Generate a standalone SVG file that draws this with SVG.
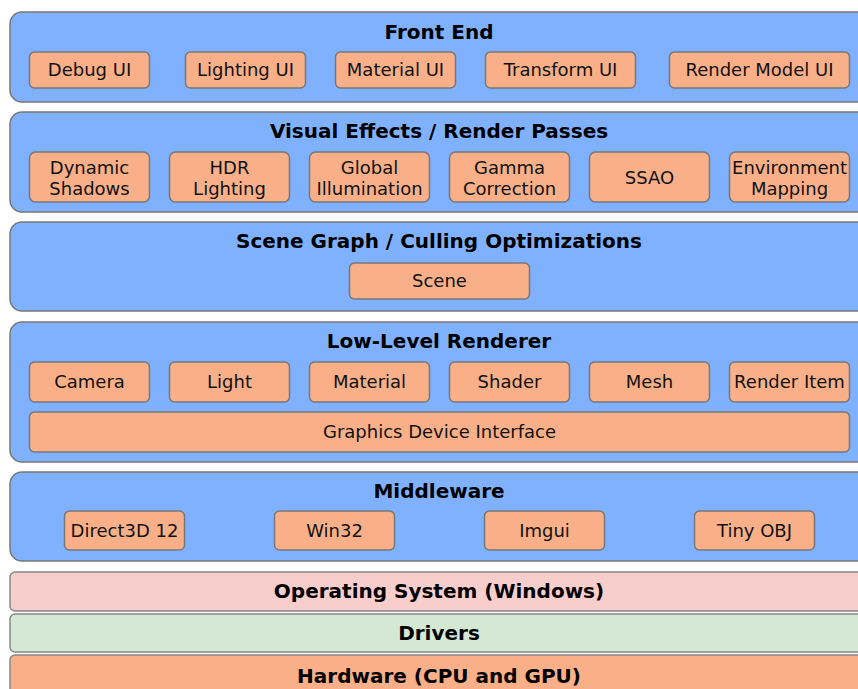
<svg xmlns="http://www.w3.org/2000/svg" width="858" height="689" viewBox="0 0 858 689">
<style>
.band{fill:#80b1ff;stroke:#777;stroke-width:1.5}
.os{fill:#f8cecc;stroke:#888;stroke-width:1.5}
.drv{fill:#d5e8d4;stroke:#888;stroke-width:1.5}
.hw{fill:#f9b088;stroke:#888;stroke-width:1.5}
.item{fill:#f9b088;stroke:#777;stroke-width:1.5}
.t{font-family:"DejaVu Sans",Verdana,sans-serif;font-size:20px;font-weight:bold;fill:#000;text-anchor:middle}
.l{font-family:"DejaVu Sans",Verdana,sans-serif;font-size:18px;fill:#111;text-anchor:middle}
</style>
<rect width="858" height="689" fill="#fff"/>
<g id="front-end">
<rect class="band" x="10" y="12" width="860" height="90" rx="12"/>
<text class="t" x="439" y="39">Front End</text>
<g id="debug-ui"><rect class="item" x="29.5" y="52" width="120" height="36" rx="5"/><text class="l" x="89.5" y="76">Debug UI</text></g>
<g id="lighting-ui"><rect class="item" x="185.5" y="52" width="120" height="36" rx="5"/><text class="l" x="245.5" y="76">Lighting UI</text></g>
<g id="material-ui"><rect class="item" x="335.5" y="52" width="120" height="36" rx="5"/><text class="l" x="395.5" y="76">Material UI</text></g>
<g id="transform-ui"><rect class="item" x="485.5" y="52" width="150" height="36" rx="5"/><text class="l" x="560.5" y="76">Transform UI</text></g>
<g id="render-model-ui"><rect class="item" x="669.5" y="52" width="180" height="36" rx="5"/><text class="l" x="759.5" y="76">Render Model UI</text></g>
</g>
<g id="visual-effects">
<rect class="band" x="10" y="112" width="860" height="100" rx="12"/>
<text class="t" x="439" y="138">Visual Effects / Render Passes</text>
<g id="dynamic-shadows"><rect class="item" x="29.5" y="152" width="120" height="50" rx="6"/><text class="l" x="89.5" y="174">Dynamic</text><text class="l" x="89.5" y="195">Shadows</text></g>
<g id="hdr-lighting"><rect class="item" x="169.5" y="152" width="120" height="50" rx="6"/><text class="l" x="229.5" y="174">HDR</text><text class="l" x="229.5" y="195">Lighting</text></g>
<g id="global-illumination"><rect class="item" x="309.5" y="152" width="120" height="50" rx="6"/><text class="l" x="369.5" y="174">Global</text><text class="l" x="369.5" y="195">Illumination</text></g>
<g id="gamma-correction"><rect class="item" x="449.5" y="152" width="120" height="50" rx="6"/><text class="l" x="509.5" y="174">Gamma</text><text class="l" x="509.5" y="195">Correction</text></g>
<g id="ssao"><rect class="item" x="589.5" y="152" width="120" height="50" rx="6"/><text class="l" x="649.5" y="184">SSAO</text></g>
<g id="environment-mapping"><rect class="item" x="729.5" y="152" width="120" height="50" rx="6"/><text class="l" x="789.5" y="174">Environment</text><text class="l" x="789.5" y="195">Mapping</text></g>
</g>
<g id="scene-graph">
<rect class="band" x="10" y="222" width="860" height="89" rx="12"/>
<text class="t" x="439" y="248">Scene Graph / Culling Optimizations</text>
<g id="scene"><rect class="item" x="349.5" y="263" width="180" height="36" rx="5"/><text class="l" x="439.5" y="287">Scene</text></g>
</g>
<g id="low-level-renderer">
<rect class="band" x="10" y="322" width="860" height="140" rx="12"/>
<text class="t" x="439" y="348">Low-Level Renderer</text>
<g id="camera"><rect class="item" x="29.5" y="362" width="120" height="40" rx="5"/><text class="l" x="89.5" y="388">Camera</text></g>
<g id="light"><rect class="item" x="169.5" y="362" width="120" height="40" rx="5"/><text class="l" x="229.5" y="388">Light</text></g>
<g id="material"><rect class="item" x="309.5" y="362" width="120" height="40" rx="5"/><text class="l" x="369.5" y="388">Material</text></g>
<g id="shader"><rect class="item" x="449.5" y="362" width="120" height="40" rx="5"/><text class="l" x="509.5" y="388">Shader</text></g>
<g id="mesh"><rect class="item" x="589.5" y="362" width="120" height="40" rx="5"/><text class="l" x="649.5" y="388">Mesh</text></g>
<g id="render-item"><rect class="item" x="729.5" y="362" width="120" height="40" rx="5"/><text class="l" x="789.5" y="388">Render Item</text></g>
<g id="graphics-device-interface"><rect class="item" x="29.5" y="412" width="820" height="40" rx="5"/><text class="l" x="439.5" y="438">Graphics Device Interface</text></g>
</g>
<g id="middleware">
<rect class="band" x="10" y="472" width="860" height="89" rx="12"/>
<text class="t" x="439" y="498">Middleware</text>
<g id="direct3d-12"><rect class="item" x="64.5" y="511" width="120" height="39" rx="5"/><text class="l" x="124.5" y="537">Direct3D 12</text></g>
<g id="win32"><rect class="item" x="274.5" y="511" width="120" height="39" rx="5"/><text class="l" x="334.5" y="537">Win32</text></g>
<g id="imgui"><rect class="item" x="484.5" y="511" width="120" height="39" rx="5"/><text class="l" x="544.5" y="537">Imgui</text></g>
<g id="tiny-obj"><rect class="item" x="694.5" y="511" width="120" height="39" rx="5"/><text class="l" x="754.5" y="537">Tiny OBJ</text></g>
</g>
<g id="operating-system">
<rect class="os" x="10" y="572" width="860" height="39" rx="5"/>
<text class="t" x="439" y="598">Operating System (Windows)</text>
</g>
<g id="drivers">
<rect class="drv" x="10" y="614" width="860" height="38" rx="5"/>
<text class="t" x="439" y="640">Drivers</text>
</g>
<g id="hardware">
<rect class="hw" x="10" y="655" width="860" height="50" rx="5"/>
<text class="t" x="439" y="683">Hardware (CPU and GPU)</text>
</g>
<g id="connectors"/>
</svg>
